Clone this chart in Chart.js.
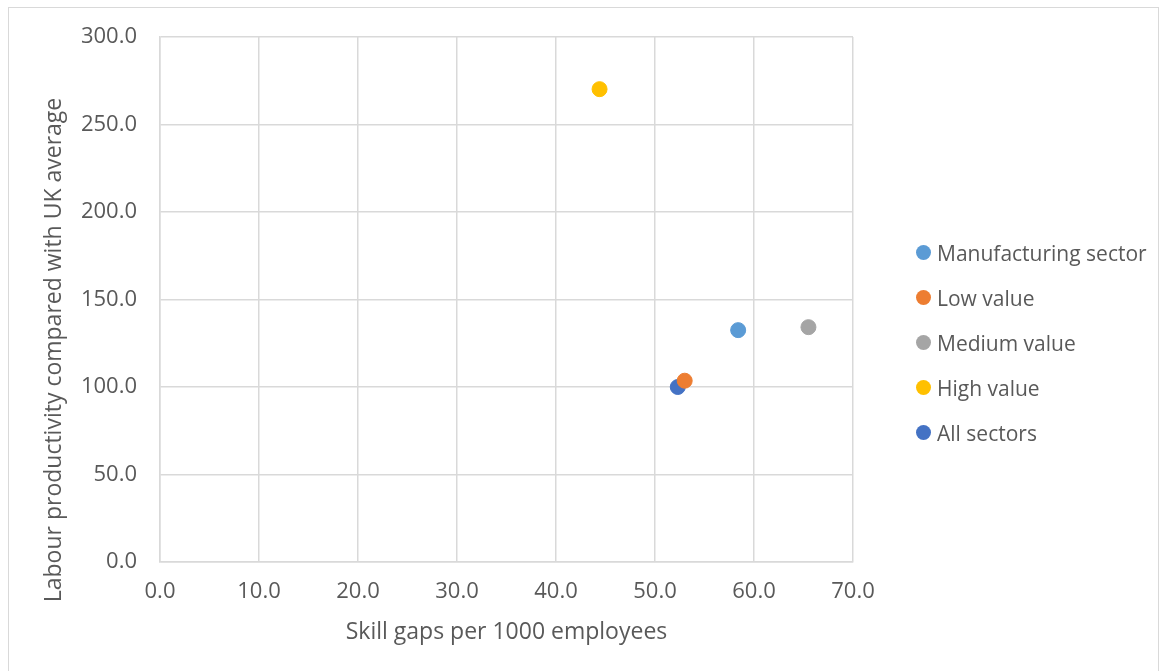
<!DOCTYPE html>
<html>
<head>
<meta charset="utf-8">
<script src="https://cdn.jsdelivr.net/npm/chart.js@4"></script>
<style>
  html, body { margin: 0; padding: 0; background: #fff; }
  #wrap { position: relative; width: 1166px; height: 671px; overflow: hidden; font-family: 'Open Sans', 'Liberation Sans', sans-serif; }
  #frame { position: absolute; left: 8px; top: 7px; width: 1151px; height: 680px; border: 1px solid #d9d9d9; box-sizing: border-box; }
  #chart { position: absolute; left: 0; top: 0; }
  #legend { position: absolute; left: 916px; top: 230px; }
  .legend-item { display: flex; align-items: center; height: 45px; font-size: 21px; color: #595959; white-space: nowrap; }
  .legend-dot { width: 15px; height: 15px; border-radius: 50%; margin-right: 6px; flex: none; }
</style>
</head>
<body>
<div id="wrap">
  <div id="frame"></div>
  <canvas id="chart" width="1166" height="671"></canvas>
  <div id="legend"></div>
</div>
<script>
// 数据
const seriesNames = ['Manufacturing sector', 'Low value', 'Medium value', 'High value', 'All sectors'];
const skillGaps = [58.4, 53.0, 65.5, 44.4, 52.3];
const productivity = [132.5, 103.6, 134.2, 270.2, 100.0];
const seriesColors = ['#5B9BD5', '#ED7D31', '#A5A5A5', '#FFC000', '#4472C4'];
const xTitle = 'Skill gaps per 1000 employees';
const yTitle = 'Labour productivity compared with UK average';

const FONT = "'Open Sans', 'Liberation Sans', sans-serif";
const TEXT = '#595959';

// 图例
document.getElementById('legend').innerHTML = seriesNames.map((name, i) => `
  <div class="legend-item">
    <span class="legend-dot" style="background:${seriesColors[i]}"></span>${name}
  </div>
`).join('');

// y轴标题（Excel 里它相对画布居中）
const yTitlePlugin = {
  id: 'yTitle',
  afterDraw(chart) {
    const ctx = chart.ctx;
    ctx.save();
    ctx.translate(61, 350);
    ctx.rotate(-Math.PI / 2);
    ctx.font = '23px ' + FONT;
    ctx.fillStyle = TEXT;
    ctx.textAlign = 'center';
    ctx.textBaseline = 'alphabetic';
    ctx.fillText(yTitle, 0, 0);
    ctx.restore();
  }
};

new Chart(document.getElementById('chart'), {
  type: 'scatter',
  data: {
    datasets: seriesNames.map((name, i) => ({
      label: name,
      data: [{ x: skillGaps[i], y: productivity[i] }],
      backgroundColor: seriesColors[i],
      borderColor: seriesColors[i],
      pointRadius: 7.5,
      pointHoverRadius: 7.5
    }))
  },
  options: {
    responsive: false,
    animation: false,
    layout: { padding: { left: 0, top: 37, right: 313, bottom: 25 } },
    plugins: {
      tooltip: { enabled: false },
      legend: { display: false }
    },
    scales: {
      x: {
        type: 'linear',
        min: 0,
        max: 70,
        ticks: {
          stepSize: 10,
          color: TEXT,
          font: { family: FONT, size: 22 },
          padding: 17,
          callback: v => v.toFixed(1)
        },
        grid: { color: '#d9d9d9', lineWidth: 1.5, drawTicks: false },
        border: { color: '#d9d9d9', width: 1.5 },
        title: {
          display: true,
          text: xTitle,
          color: TEXT,
          font: { family: FONT, size: 23 },
          padding: { top: -4, bottom: 0 }
        }
      },
      y: {
        type: 'linear',
        min: 0,
        max: 300,
        afterFit: s => { s.width = 160; },
        ticks: {
          stepSize: 50,
          color: TEXT,
          font: { family: FONT, size: 22 },
          padding: 23,
          callback: v => v.toFixed(1)
        },
        grid: { color: '#d9d9d9', lineWidth: 1.5, drawTicks: false },
        border: { color: '#d9d9d9', width: 1.5 }
      }
    }
  },
  plugins: [yTitlePlugin]
});
</script>
</body>
</html>
